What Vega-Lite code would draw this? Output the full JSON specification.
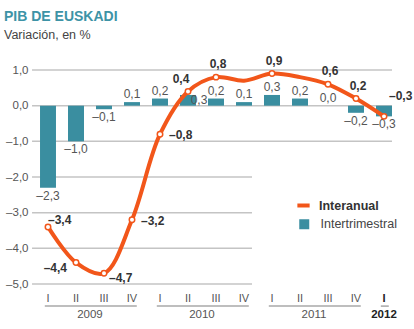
{
  "$schema": "https://vega.github.io/schema/vega-lite/v6.json",
  "width": 364,
  "height": 214,
  "autosize": {"type": "none"},
  "padding": {"left": 34, "top": 70, "right": 16, "bottom": 45},
  "background": "white",
  "title": {
    "text": "PIB DE EUSKADI",
    "subtitle": "Variación, en %",
    "anchor": "start",
    "frame": "group",
    "dx": -30,
    "offset": 13,
    "font": "Liberation Sans",
    "fontSize": 14,
    "fontWeight": "bold",
    "color": "#3d93a6",
    "subtitleFont": "Liberation Sans",
    "subtitleFontSize": 12.5,
    "subtitleColor": "#444444",
    "subtitlePadding": 5
  },
  "datasets": {
    "pib": [
      {"q": "2009-I", "ia": -3.4, "it": -2.3},
      {"q": "2009-II", "ia": -4.4, "it": -1.0},
      {"q": "2009-III", "ia": -4.7, "it": -0.1},
      {"q": "2009-IV", "ia": -3.2, "it": 0.1},
      {"q": "2010-I", "ia": -0.8, "it": 0.2},
      {"q": "2010-II", "ia": 0.4, "it": 0.3},
      {"q": "2010-III", "ia": 0.8, "it": 0.2},
      {"q": "2010-IV", "ia": 0.7, "it": 0.1},
      {"q": "2011-I", "ia": 0.9, "it": 0.3},
      {"q": "2011-II", "ia": 0.8, "it": 0.2},
      {"q": "2011-III", "ia": 0.6, "it": 0.0},
      {"q": "2011-IV", "ia": 0.2, "it": -0.2},
      {"q": "2012-I", "ia": -0.3, "it": -0.3}
    ],
    "grid": [
      {"v": 1, "from": "2009-I", "to": "2012-I"},
      {"v": 0, "from": "2009-I", "to": "2012-I"},
      {"v": -1, "from": "2009-I", "to": "2012-I"},
      {"v": -2, "from": "2009-I", "to": "2010-IV"},
      {"v": -3, "from": "2009-I", "to": "2010-IV"},
      {"v": -4, "from": "2009-I", "to": "2010-IV"},
      {"v": -5, "from": "2009-I", "to": "2010-IV"}
    ],
    "years": [
      {"year": "2009", "first": "2009-I", "mid": "2009-II", "last": "2009-IV"},
      {"year": "2010", "first": "2010-I", "mid": "2010-II", "last": "2010-IV"},
      {"year": "2011", "first": "2011-I", "mid": "2011-II", "last": "2011-IV"},
      {"year": "2012", "first": "2012-I", "mid": "2012-I", "last": "2012-I"}
    ]
  },
  "layer": [
    {
      "data": {"name": "grid"},
      "mark": {"type": "rule", "color": "#c4c4c4", "strokeWidth": 1.5},
      "encoding": {
        "x": {
          "field": "from",
          "type": "nominal",
          "bandPosition": -0.5,
          "title": null,
          "scale": {
            "domain": ["2009-I", "2009-II", "2009-III", "2009-IV", "2010-I", "2010-II", "2010-III", "2010-IV", "2011-I", "2011-II", "2011-III", "2011-IV", "2012-I"],
            "paddingInner": 0.43,
            "paddingOuter": 0.215
          },
          "axis": {
            "labelExpr": "split(datum.value, '-')[1]",
            "domain": false,
            "ticks": false,
            "labelAngle": 0,
            "labelPadding": 8,
            "labelOverlap": false,
            "labelFont": "Liberation Sans",
            "labelFontSize": 11,
            "labelColor": {"condition": {"test": "datum.value == '2012-I'", "value": "#222222"}, "value": "#555555"},
            "labelFontWeight": {"condition": {"test": "datum.value == '2012-I'", "value": "bold"}, "value": "normal"}
          }
        },
        "x2": {"field": "to", "bandPosition": 1.0},
        "y": {
          "field": "v",
          "type": "quantitative",
          "title": null,
          "scale": {"domain": [-5, 1], "nice": false, "zero": false},
          "axis": {
            "values": [1, 0, -1, -2, -3, -4, -5],
            "tickCount": 12,
            "format": ".1f",
            "grid": false,
            "domain": false,
            "ticks": false,
            "labelOverlap": false,
            "labelFlush": false,
            "labelPadding": 6,
            "labelFont": "Liberation Sans",
            "labelFontSize": 11.5,
            "labelColor": "#555555"
          }
        }
      }
    },
    {
      "data": {"name": "pib"},
      "mark": {"type": "bar"},
      "encoding": {
        "x": {"field": "q", "type": "nominal", "title": null},
        "y": {"field": "it", "type": "quantitative", "title": null},
        "fill": {
          "datum": "Intertrimestral",
          "scale": {"domain": ["Intertrimestral"], "range": ["#3a8ea0"]},
          "legend": {
            "orient": "none",
            "legendX": 264,
            "legendY": 148,
            "title": null,
            "padding": 0,
            "symbolType": "square",
            "symbolSize": 100,
            "symbolStrokeWidth": 0,
            "labelOffset": 10,
            "labelFont": "Liberation Sans",
            "labelFontSize": 12.5,
            "labelColor": "#444444"
          }
        }
      }
    },
    {
      "data": {"name": "pib"},
      "transform": [{"filter": "datum.it >= 0 && datum.q != '2010-II'"}],
      "mark": {"type": "text", "baseline": "alphabetic", "dy": -4, "font": "Liberation Sans", "fontSize": 12, "color": "#555555"},
      "encoding": {
        "x": {"field": "q", "type": "nominal", "title": null},
        "y": {"field": "it", "type": "quantitative", "title": null},
        "text": {"field": "it", "type": "quantitative", "format": ".1f"}
      }
    },
    {
      "data": {"name": "pib"},
      "transform": [{"filter": "datum.q == '2010-II'"}],
      "mark": {"type": "text", "baseline": "middle", "dx": 11, "dy": 5, "font": "Liberation Sans", "fontSize": 12, "color": "#555555"},
      "encoding": {
        "x": {"field": "q", "type": "nominal", "title": null},
        "y": {"field": "it", "type": "quantitative", "title": null},
        "text": {"field": "it", "type": "quantitative", "format": ".1f"}
      }
    },
    {
      "data": {"name": "pib"},
      "transform": [{"filter": "datum.it < 0"}],
      "mark": {"type": "text", "baseline": "top", "dy": 3, "font": "Liberation Sans", "fontSize": 12, "color": "#555555"},
      "encoding": {
        "x": {"field": "q", "type": "nominal", "title": null},
        "y": {"field": "it", "type": "quantitative", "title": null},
        "text": {"field": "it", "type": "quantitative", "format": ".1f"}
      }
    },
    {
      "data": {"name": "pib"},
      "mark": {"type": "line", "interpolate": "catmull-rom", "strokeWidth": 4},
      "encoding": {
        "x": {"field": "q", "type": "nominal", "title": null},
        "y": {"field": "ia", "type": "quantitative", "title": null},
        "stroke": {
          "datum": "Interanual",
          "scale": {"domain": ["Interanual"], "range": ["#f2561a"]},
          "legend": {
            "orient": "none",
            "legendX": 261,
            "legendY": 127,
            "title": null,
            "padding": 0,
            "symbolType": "stroke",
            "symbolSize": 150,
            "symbolStrokeWidth": 4,
            "labelOffset": 7,
            "labelFont": "Liberation Sans",
            "labelFontSize": 12.5,
            "labelFontWeight": "bold",
            "labelColor": "#333333"
          }
        }
      }
    },
    {
      "data": {"name": "pib"},
      "transform": [{"filter": {"not": {"field": "q", "oneOf": ["2010-IV", "2011-II"]}}}],
      "mark": {"type": "point", "filled": true, "fill": "white", "stroke": "#f2561a", "strokeWidth": 1.5, "size": 30, "opacity": 1},
      "encoding": {
        "x": {"field": "q", "type": "nominal", "title": null},
        "y": {"field": "ia", "type": "quantitative", "title": null}
      }
    },
    {
      "data": {"name": "pib"},
      "transform": [{"filter": {"field": "q", "oneOf": ["2010-III", "2011-I", "2011-III", "2011-IV"]}}],
      "mark": {"type": "text", "align": "center", "baseline": "middle", "dx": 2, "dy": -13, "font": "Liberation Sans", "fontSize": 12, "fontWeight": "bold", "color": "#333333"},
      "encoding": {
        "x": {"field": "q", "type": "nominal", "title": null},
        "y": {"field": "ia", "type": "quantitative", "title": null},
        "text": {"field": "ia", "type": "quantitative", "format": ".1f"}
      }
    },
    {
      "data": {"name": "pib"},
      "transform": [{"filter": {"field": "q", "oneOf": ["2010-II"]}}],
      "mark": {"type": "text", "align": "center", "baseline": "middle", "dx": -7, "dy": -12, "font": "Liberation Sans", "fontSize": 12, "fontWeight": "bold", "color": "#333333"},
      "encoding": {
        "x": {"field": "q", "type": "nominal", "title": null},
        "y": {"field": "ia", "type": "quantitative", "title": null},
        "text": {"field": "ia", "type": "quantitative", "format": ".1f"}
      }
    },
    {
      "data": {"name": "pib"},
      "transform": [{"filter": {"field": "q", "oneOf": ["2009-IV", "2010-I"]}}],
      "mark": {"type": "text", "align": "left", "baseline": "middle", "dx": 9, "dy": 1, "font": "Liberation Sans", "fontSize": 12, "fontWeight": "bold", "color": "#333333"},
      "encoding": {
        "x": {"field": "q", "type": "nominal", "title": null},
        "y": {"field": "ia", "type": "quantitative", "title": null},
        "text": {"field": "ia", "type": "quantitative", "format": ".1f"}
      }
    },
    {
      "data": {"name": "pib"},
      "transform": [{"filter": {"field": "q", "oneOf": ["2009-III"]}}],
      "mark": {"type": "text", "align": "left", "baseline": "middle", "dx": 5, "dy": 5, "font": "Liberation Sans", "fontSize": 12, "fontWeight": "bold", "color": "#333333"},
      "encoding": {
        "x": {"field": "q", "type": "nominal", "title": null},
        "y": {"field": "ia", "type": "quantitative", "title": null},
        "text": {"field": "ia", "type": "quantitative", "format": ".1f"}
      }
    },
    {
      "data": {"name": "pib"},
      "transform": [{"filter": {"field": "q", "oneOf": ["2009-I"]}}],
      "mark": {"type": "text", "align": "left", "baseline": "middle", "dx": 0, "dy": -7, "font": "Liberation Sans", "fontSize": 12, "fontWeight": "bold", "color": "#333333"},
      "encoding": {
        "x": {"field": "q", "type": "nominal", "title": null},
        "y": {"field": "ia", "type": "quantitative", "title": null},
        "text": {"field": "ia", "type": "quantitative", "format": ".1f"}
      }
    },
    {
      "data": {"name": "pib"},
      "transform": [{"filter": {"field": "q", "oneOf": ["2012-I"]}}],
      "mark": {"type": "text", "align": "left", "baseline": "middle", "dx": 5, "dy": -20, "font": "Liberation Sans", "fontSize": 12, "fontWeight": "bold", "color": "#333333"},
      "encoding": {
        "x": {"field": "q", "type": "nominal", "title": null},
        "y": {"field": "ia", "type": "quantitative", "title": null},
        "text": {"field": "ia", "type": "quantitative", "format": ".1f"}
      }
    },
    {
      "data": {"name": "pib"},
      "transform": [{"filter": {"field": "q", "oneOf": ["2009-II"]}}],
      "mark": {"type": "text", "align": "right", "baseline": "middle", "dx": -9, "dy": 5, "font": "Liberation Sans", "fontSize": 12, "fontWeight": "bold", "color": "#333333"},
      "encoding": {
        "x": {"field": "q", "type": "nominal", "title": null},
        "y": {"field": "ia", "type": "quantitative", "title": null},
        "text": {"field": "ia", "type": "quantitative", "format": ".1f"}
      }
    },
    {
      "data": {"name": "years"},
      "mark": {"type": "rule", "color": "#a8a8a8", "strokeWidth": 1.5},
      "encoding": {
        "x": {"field": "first", "type": "nominal", "bandPosition": 0.3, "title": null},
        "x2": {"field": "last", "bandPosition": 0.8},
        "y": {"datum": -5.62}
      }
    },
    {
      "data": {"name": "years"},
      "transform": [{"filter": "datum.year != '2012'"}],
      "mark": {"type": "text", "align": "center", "baseline": "middle", "font": "Liberation Sans", "fontSize": 11.5, "color": "#555555"},
      "encoding": {
        "x": {"field": "mid", "type": "nominal", "bandPosition": 1.375, "title": null},
        "y": {"datum": -5.87},
        "text": {"field": "year"}
      }
    },
    {
      "data": {"name": "years"},
      "transform": [{"filter": "datum.year == '2012'"}],
      "mark": {"type": "text", "align": "center", "baseline": "middle", "font": "Liberation Sans", "fontSize": 11.5, "fontWeight": "bold", "color": "#222222"},
      "encoding": {
        "x": {"field": "mid", "type": "nominal", "bandPosition": 0.5, "title": null},
        "y": {"datum": -5.87},
        "text": {"field": "year"}
      }
    }
  ],
  "config": {
    "view": {"stroke": null},
    "font": "Liberation Sans",
    "axisY": {"labelOverlap": false},
    "axisX": {"labelOverlap": false},
    "locale": {
      "number": {"decimal": ",", "thousands": ".", "grouping": [3], "currency": ["", " €"], "minus": "–"}
    }
  }
}
